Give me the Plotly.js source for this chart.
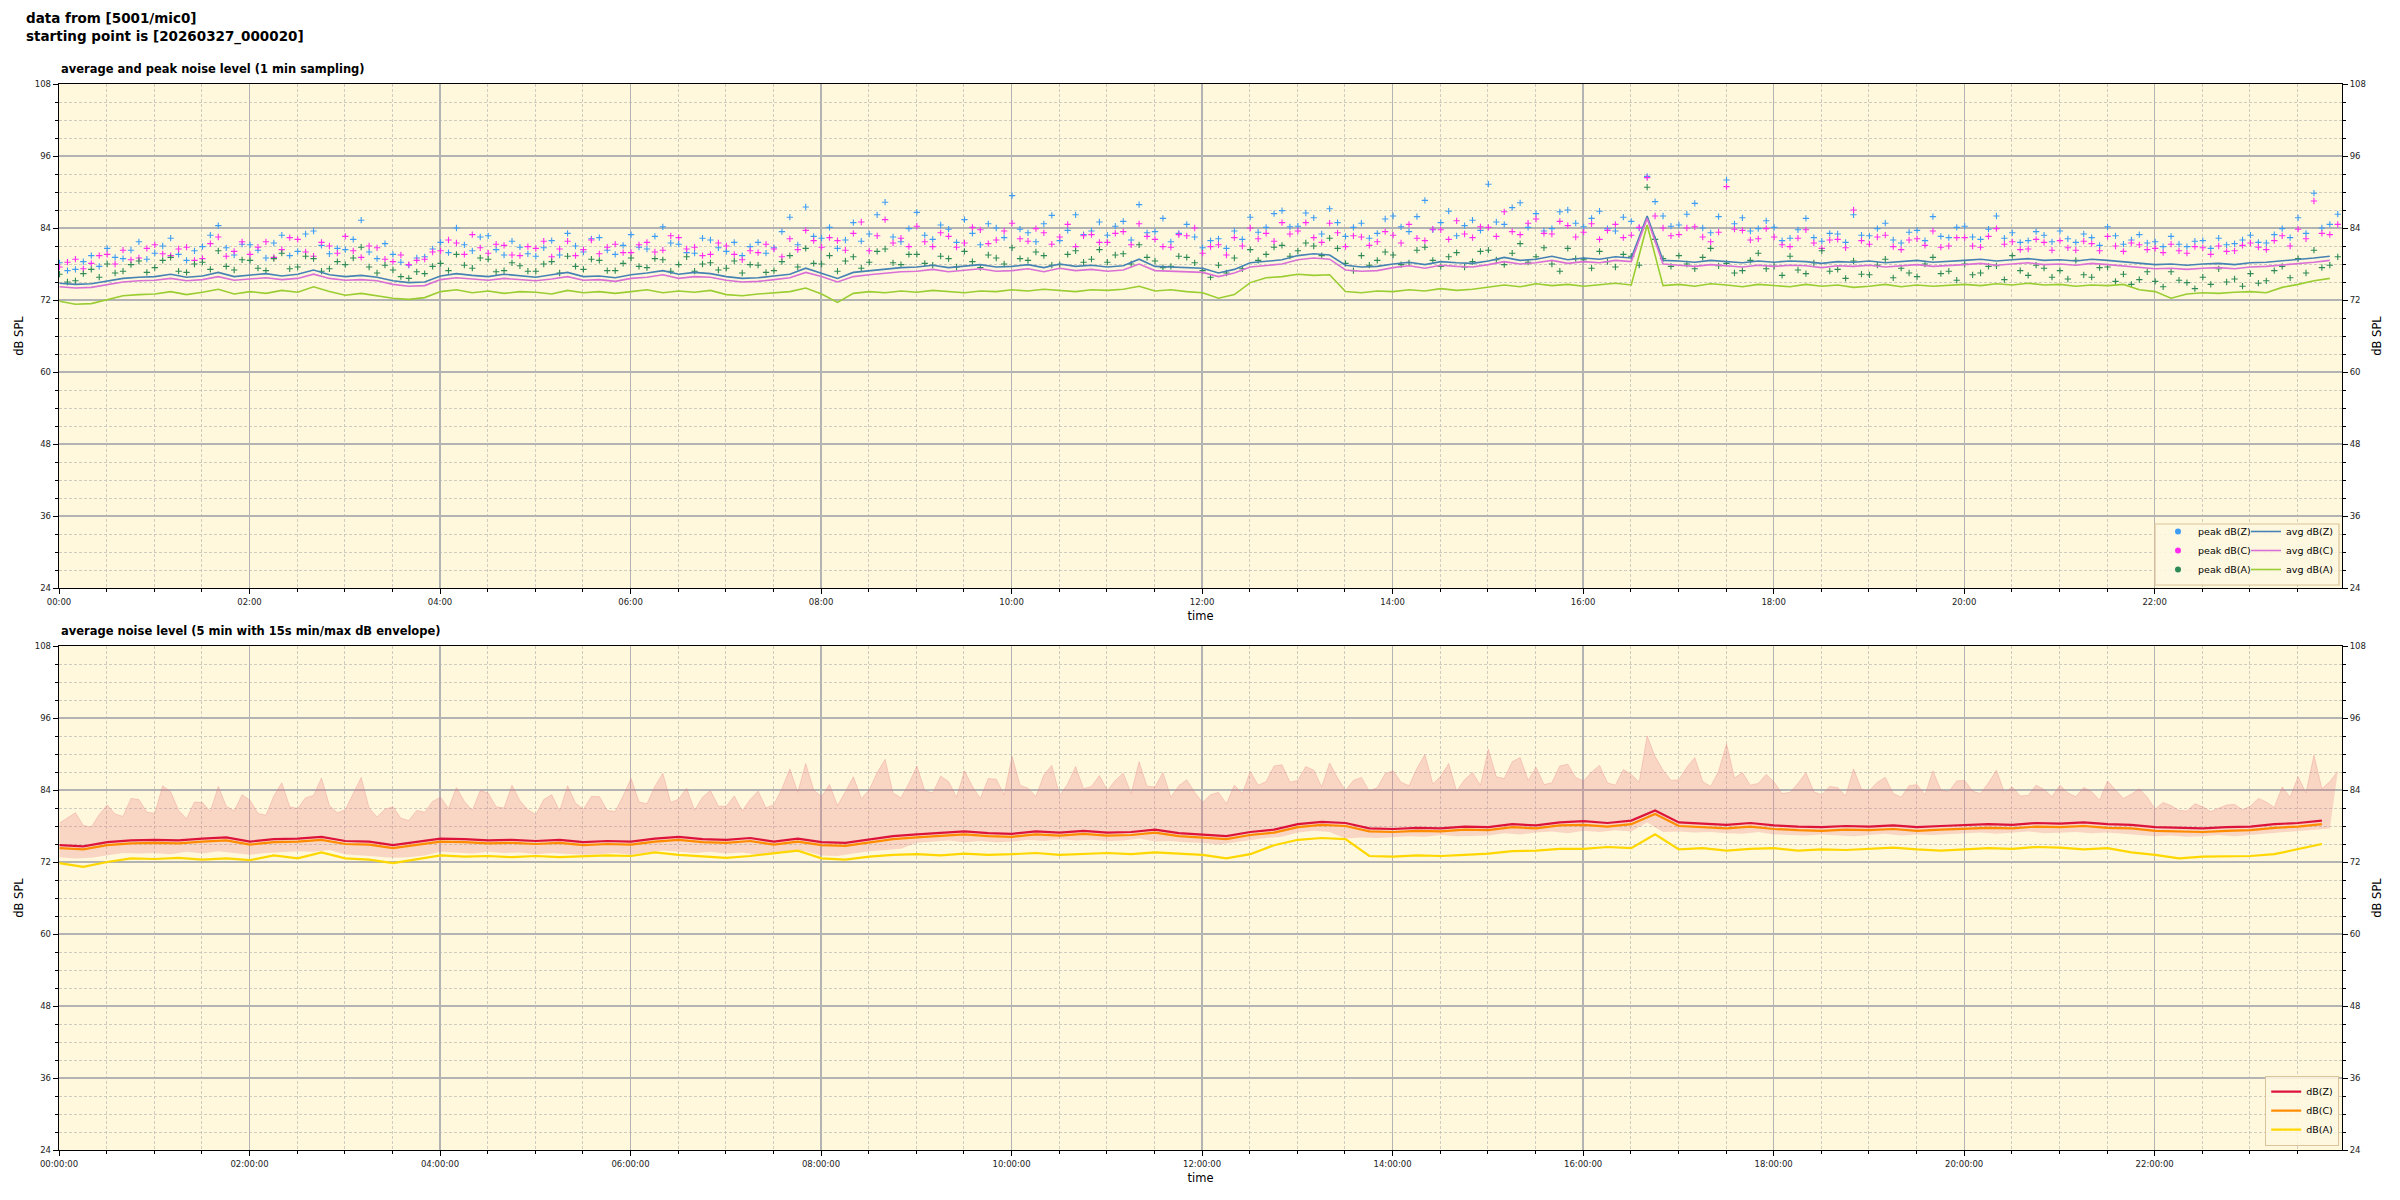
<!DOCTYPE html>
<html>
<head>
<meta charset="utf-8">
<script src="https://cdn.plot.ly/plotly-3.0.1.min.js"></script>
<style>
html,body{margin:0;padding:0;background:#fff;}
#chart{width:2400px;height:1200px;}
</style>
</head>
<body>
<div id="chart"></div>
<script>
// ---------------- data ----------------
const sourceName = '5001/mic0';
const startStamp = '20260327_000020';
const dayDate = '2026-03-27';
const startSecond = 20;
const avgStepMin = 10;      // top average lines, read every 10 min
const peakStepMin = 5;      // top peak markers, read every 5 min
const bottomStepMin = 15;   // bottom 5-min averages, read every 15 min
const envMaxStepMin = 5;    // 15 s max envelope, read every 5 min
const envMinStepMin = 10;   // 15 s min envelope, read every 10 min

// top: average levels, dB SPL (every 10 min)
const avgZ = [
74.8,74.6,74.7,75.1,75.6,75.8, 75.9,76.3,75.8,76.0,76.6,75.9, 76.1,76.4,76.0,76.3,77.0,76.2,
75.9,76.1,75.8,75.2,74.9,75.0, 76.0,76.4,76.1,75.9,76.3,76.0, 75.8,76.2,76.6,75.9,76.0,75.7,
76.2,76.5,76.9,76.3,76.6,76.4, 75.9,75.6,75.7,76.0,76.3,77.3, 76.5,75.6,76.6,76.9,77.2,77.4,
77.5,77.8,77.4,77.7,77.9,77.5, 77.6,77.9,77.4,78.0,77.6,77.8, 77.5,77.7,78.8,77.6,77.5,77.4,
77.3,76.5,77.1,78.2,78.5,78.7, 79.4,79.7,79.5,77.8,77.5,77.6, 78.0,78.3,77.9,78.4,78.2,78.1,
78.5,79.1,78.6,78.8,79.3,78.7, 79.0,78.8,79.2,79.0,86.0,78.6, 78.5,78.3,78.6,78.4,78.2,78.5,
78.3,78.5,78.4,78.1,78.4,78.3, 78.5,78.2,78.4,78.6,78.3,78.4, 78.6,78.8,78.5,78.7,78.9,78.6,
78.7,78.5,78.8,78.6,78.4,78.1, 77.9,78.0,77.8,78.0,78.1,77.9, 78.2,78.3,78.5,78.7,79.0,79.3
];
const avgC = [
74.2,74.0,74.1,74.5,75.0,75.2, 75.3,75.6,75.2,75.4,75.9,75.3, 75.5,75.7,75.4,75.6,76.3,75.6,
75.3,75.4,75.2,74.6,74.3,74.4, 75.4,75.7,75.5,75.3,75.6,75.4, 75.2,75.5,75.9,75.3,75.4,75.1,
75.6,75.8,76.2,75.6,75.9,75.8, 75.3,75.0,75.1,75.4,75.7,76.6, 75.9,75.0,75.9,76.2,76.5,76.7,
76.8,77.1,76.7,77.0,77.2,76.8, 76.9,77.2,76.7,77.3,76.9,77.1, 76.8,77.0,78.0,76.9,76.8,76.7,
76.6,75.9,76.5,77.5,77.8,78.0, 78.7,79.0,78.8,77.0,76.8,76.9, 77.4,77.7,77.3,77.8,77.6,77.5,
77.9,78.4,78.0,78.2,78.6,78.1, 78.4,78.2,78.6,78.4,85.6,78.0, 77.8,77.6,77.9,77.7,77.5,77.8,
77.6,77.8,77.7,77.4,77.7,77.6, 77.8,77.5,77.7,77.9,77.6,77.7, 77.9,78.1,77.8,78.0,78.2,77.9,
78.0,77.8,78.1,77.9,77.7,77.4, 77.2,77.3,77.1,77.3,77.4,77.2, 77.5,77.6,77.8,78.0,78.3,78.6
];
const avgA = [
71.8,71.3,71.4,72.1,72.7,72.9, 73.0,73.4,72.9,73.3,73.8,73.0, 73.4,73.1,73.6,73.3,74.2,73.4,
72.8,73.1,72.7,72.3,72.1,72.4, 73.4,73.7,73.2,73.5,73.1,73.4, 73.3,73.0,73.6,73.2,73.4,73.1,
73.4,73.7,73.2,73.5,73.3,73.6, 72.9,72.7,73.0,73.2,73.4,74.0, 73.0,71.6,73.1,73.4,73.2,73.5,
73.3,73.6,73.4,73.2,73.5,73.4, 73.7,73.5,73.8,73.6,73.4,73.7, 73.6,73.8,74.3,73.5,73.7,73.4,
73.2,72.3,72.9,74.9,75.7,75.9, 76.3,76.1,76.2,73.4,73.2,73.5, 73.4,73.7,73.5,73.9,73.6,73.8,
74.1,74.5,74.2,74.7,74.4,74.6, 74.3,74.6,74.8,74.5,84.5,74.4, 74.6,74.3,74.7,74.5,74.2,74.6,
74.4,74.2,74.6,74.3,74.5,74.1, 74.3,74.6,74.2,74.5,74.3,74.4, 74.6,74.4,74.7,74.5,74.8,74.5,
74.6,74.3,74.5,74.4,74.6,73.7, 73.4,72.3,73.0,73.2,73.1,73.3, 73.4,73.2,74.1,74.6,75.2,75.6
];
// top: peak levels, dB SPL (every 5 min, one row per hour)
const peakZ = [
78.2,76.9,77.1,78.4,79.4,77.6,80.6,79.1,78.9,80.3,81.7,78.8,
79.8,81.0,82.3,79.6,78.6,80.2,80.9,82.8,84.4,80.7,79.5,81.3,
81.2,80.3,79.0,81.5,82.8,79.4,80.1,83.0,83.5,81.1,79.7,80.6,
80.4,82.1,85.3,80.0,78.9,81.4,79.6,78.3,77.8,79.0,79.2,80.5,
81.6,79.9,84.0,81.2,80.2,82.5,82.7,80.4,79.5,81.8,80.8,79.7,
79.3,80.7,81.9,79.5,83.1,81.0,80.0,82.2,82.4,80.3,79.6,81.1,
82.9,80.8,80.5,82.6,84.2,81.5,81.3,79.9,79.8,82.3,82.0,80.7,
80.1,81.6,79.4,80.9,81.6,79.8,80.7,83.4,85.8,81.2,87.5,82.6,
82.3,84.1,80.6,82.0,84.9,81.8,83.0,86.2,88.3,82.5,81.7,83.9,
86.6,82.8,82.1,84.5,83.8,81.6,85.4,83.1,81.2,84.7,84.0,82.4,
89.4,83.8,83.2,81.7,84.7,86.1,81.9,83.6,86.2,82.9,83.5,85.0,
82.8,84.3,85.1,82.0,87.9,83.2,83.4,85.6,81.7,83.1,84.6,82.5,
80.7,81.9,82.2,80.6,83.5,82.1,85.8,83.3,84.1,86.4,86.9,84.2,
84.3,86.5,85.7,83.0,87.2,84.9,82.6,84.1,84.8,82.3,83.1,85.5,
86.0,84.2,83.4,85.9,88.6,83.7,84.9,86.8,82.7,84.4,85.3,83.6,
91.3,85.0,84.6,87.4,88.2,84.1,86.4,83.5,83.9,86.7,87.0,84.8,
84.2,85.6,86.8,83.9,83.5,85.8,85.1,84.0,92.6,88.4,86.0,84.3,
84.5,86.3,88.1,84.0,83.2,85.9,92.0,84.7,85.7,83.5,83.9,85.2,
84.1,81.9,82.3,83.7,85.6,82.4,81.8,83.1,83.0,81.6,86.2,82.8,
82.7,83.9,84.8,82.0,81.5,83.3,83.6,81.9,85.9,82.6,82.4,84.1,
84.3,82.5,82.1,83.8,86.0,82.3,83.2,81.6,81.9,83.4,82.8,81.7,
83.5,82.2,81.6,83.0,82.4,81.1,84.2,82.7,81.3,82.0,82.9,81.5,
81.7,80.9,82.6,81.3,80.9,81.8,81.9,80.6,82.3,81.2,81.4,82.0,
82.8,81.6,81.5,82.9,83.9,82.4,85.7,83.1,89.8,84.0,84.6,86.3
];
const peakC = [
77.5,78.3,78.8,77.2,78.1,79.4,79.6,78.0,80.3,78.7,79.0,80.6,
81.2,79.7,79.4,80.5,80.8,78.6,78.9,81.4,82.5,79.3,80.1,81.7,
79.6,80.8,81.7,79.1,80.4,82.4,82.1,80.0,79.3,81.6,81.0,79.8,
82.6,80.2,79.1,81.0,80.7,78.8,78.4,79.5,77.9,78.6,78.8,80.0,
80.2,82.0,81.5,79.6,82.9,80.7,79.8,81.3,81.1,79.5,79.4,80.9,
80.6,81.8,79.2,80.5,81.8,79.4,80.4,82.0,79.7,80.8,81.3,79.9,
79.9,81.2,81.6,80.0,80.3,82.7,82.4,80.5,80.8,79.4,79.6,81.5,
81.0,79.6,78.7,80.2,79.9,81.3,80.5,79.2,82.2,80.4,83.6,81.9,
80.8,82.4,81.9,80.3,83.1,85.0,80.2,82.7,85.4,81.5,82.3,80.9,
84.3,81.7,80.9,83.2,82.6,80.8,81.5,84.1,83.7,81.4,82.0,83.5,
84.8,82.2,81.8,83.9,83.2,81.3,82.5,84.6,80.9,82.7,82.9,81.6,
81.6,83.1,83.4,81.2,84.7,82.6,82.1,80.9,80.8,82.9,82.7,84.0,
79.8,80.9,81.2,79.5,82.4,81.0,84.0,82.2,83.1,81.8,84.9,83.0,
83.5,84.9,82.4,81.6,84.8,83.2,80.9,82.7,82.5,81.1,81.7,83.4,
82.8,81.5,84.6,82.3,81.9,83.8,83.7,82.1,85.2,83.0,82.4,84.2,
84.1,82.6,86.7,83.4,82.9,84.8,85.5,83.1,83.0,85.1,84.4,82.5,
83.3,84.7,82.1,83.6,84.6,82.4,82.8,84.1,92.4,86.0,84.0,82.7,
82.9,84.0,84.2,82.5,81.7,83.3,90.9,83.8,83.6,82.0,82.2,83.9,
82.5,81.2,80.9,82.3,83.7,81.5,80.6,82.0,82.1,80.7,87.0,81.9,
81.3,82.5,82.8,80.9,80.4,82.0,82.2,81.1,83.5,80.8,81.0,82.4,
82.4,81.0,80.8,82.6,83.9,81.3,81.7,80.4,80.5,82.1,81.6,80.3,
81.9,80.7,80.3,81.8,81.4,80.2,82.6,81.0,80.1,81.5,81.2,80.4,
80.6,79.9,81.3,80.2,79.8,80.9,80.7,79.6,81.0,80.1,80.2,81.1,
81.5,80.8,80.4,81.9,82.7,81.0,83.8,82.2,88.5,83.1,82.9,84.6
];
const peakA = [
76.3,75.0,75.2,76.4,77.1,75.8,78.0,76.5,76.8,77.9,78.5,76.6,
77.4,78.6,79.1,76.8,76.6,78.0,78.3,77.1,80.2,77.6,77.0,78.7,
78.6,77.3,76.9,78.9,79.8,77.2,77.5,79.3,78.9,76.8,77.2,78.4,
77.9,79.0,80.8,77.5,76.5,77.8,77.0,75.9,75.6,76.7,76.4,77.6,
78.1,76.9,79.6,77.8,77.3,79.0,78.8,76.7,76.9,78.2,77.7,76.8,
76.8,78.0,78.4,76.5,79.3,77.6,77.1,78.8,78.6,76.9,76.9,78.1,
79.0,77.6,77.4,78.9,78.7,76.8,77.9,79.2,76.8,78.0,78.2,77.0,
77.3,78.5,76.5,77.9,77.8,76.6,76.9,78.4,79.4,77.5,80.6,78.1,
78.0,79.4,76.8,78.5,79.2,77.3,78.3,80.1,80.5,78.2,77.9,79.6,
79.6,78.1,77.8,79.3,78.9,77.5,80.1,78.4,77.4,79.5,79.0,78.0,
80.7,78.9,78.6,80.0,79.4,77.8,77.9,79.6,80.2,78.3,78.8,80.4,
78.3,79.5,79.7,78.0,81.2,79.1,78.5,77.4,77.6,79.3,79.1,78.2,
76.9,75.8,77.8,76.5,79.0,77.2,80.4,78.6,79.6,80.8,81.1,79.3,
80.2,81.5,81.0,79.4,82.3,80.6,78.1,76.9,79.4,77.8,78.6,80.0,
79.5,77.9,78.2,80.3,80.8,78.6,77.6,79.2,79.9,77.5,78.4,80.1,
80.3,78.7,77.9,79.8,81.4,78.3,79.2,80.7,78.0,76.8,80.6,78.9,
78.7,77.3,80.1,78.4,77.5,79.6,79.3,77.8,90.8,82.1,78.9,77.6,
79.4,78.0,77.2,79.1,80.6,77.7,78.1,76.5,76.9,78.6,79.8,77.2,
77.6,76.1,79.3,77.0,76.4,78.2,80.2,76.8,77.1,75.6,78.5,76.3,
76.2,77.8,78.8,75.7,77.3,76.5,75.9,78.0,79.1,76.4,76.8,75.3,
78.0,76.2,76.5,77.6,77.7,75.4,79.4,76.9,76.1,77.8,77.3,75.8,
76.9,75.5,78.6,76.2,75.8,77.4,77.5,75.1,76.3,74.6,75.4,76.7,
75.1,74.2,76.7,75.3,74.9,73.9,75.8,74.6,77.2,75.0,75.5,74.3,
76.4,74.8,75.2,76.9,77.6,75.7,78.9,76.5,80.3,77.4,77.8,79.2
];

// bottom: 5-min average levels, dB SPL (every 15 min)
const dbZ = [
74.8,74.6,75.3,75.6, 75.7,75.6,75.9,76.1, 75.4,75.8,75.9,76.2, 75.5,75.4,74.8,75.3,
75.9,75.8,75.6,75.7, 75.5,75.7,75.3,75.5, 75.4,75.9,76.2,75.8, 75.7,76.0,75.4,75.9,
75.3,75.2,75.8,76.3, 76.6,76.9,77.1,76.8, 76.7,77.1,76.9,77.2, 76.9,77.0,77.4,76.8,
76.6,76.3,77.0,77.4, 78.3,78.7,78.5,77.6, 77.5,77.7,77.6,77.9, 77.8,78.3,78.1,78.6,
78.8,78.5,78.9,80.6, 78.6,78.4,78.2,78.5, 78.1,77.9,77.8,78.0, 77.9,78.1,77.8,78.0,
78.1,78.3,78.2,78.5, 78.4,78.6,78.3,78.2, 77.8,77.7,77.6,77.8, 77.9,78.3,78.5,78.9
];
const dbC = [
74.3,74.1,74.8,75.1, 75.2,75.1,75.4,75.6, 74.9,75.3,75.4,75.7, 75.0,74.9,74.3,74.8,
75.4,75.3,75.1,75.2, 75.0,75.2,74.8,75.0, 74.9,75.4,75.7,75.3, 75.2,75.5,74.9,75.4,
74.8,74.7,75.3,75.8, 76.1,76.4,76.6,76.3, 76.2,76.6,76.4,76.7, 76.4,76.5,76.9,76.3,
76.1,75.8,76.5,76.9, 77.8,78.2,78.0,77.1, 77.0,77.2,77.1,77.4, 77.3,77.8,77.6,78.1,
78.2,77.9,78.3,80.0, 78.0,77.8,77.6,77.9, 77.5,77.3,77.2,77.4, 77.3,77.5,77.2,77.4,
77.5,77.7,77.6,77.9, 77.8,78.0,77.7,77.6, 77.2,77.1,77.0,77.2, 77.3,77.7,77.9,78.3
];
const dbA = [
71.8,71.2,72.0,72.6, 72.5,72.7,72.4,72.6, 72.3,73.1,72.6,73.6, 72.6,72.4,71.8,72.5,
73.1,72.9,73.0,72.8, 73.0,72.8,72.9,73.1, 73.0,73.6,73.2,72.9, 72.7,73.0,73.4,73.9,
72.6,72.4,72.9,73.2, 73.3,73.1,73.4,73.2, 73.3,73.5,73.2,73.4, 73.5,73.3,73.6,73.4,
73.2,72.6,73.3,74.8, 75.7,76.0,75.8,73.0, 72.9,73.1,73.0,73.2, 73.4,73.8,73.9,74.2,
74.2,74.5,74.3,76.6, 74.1,74.3,73.9,74.2, 74.3,73.9,74.1,74.0, 74.2,74.4,74.1,73.9,
74.1,74.3,74.2,74.5, 74.4,74.1,74.3,73.6, 73.2,72.6,72.9,73.0, 73.0,73.3,74.2,75.0
];
// bottom: 15 s max envelope (every 5 min, one row per hour)
const envMax = [
78.5,79.4,80.2,78.1,77.8,79.9,81.5,80.0,79.6,82.6,82.4,80.3,
80.1,84.7,83.7,80.6,79.2,82.0,81.9,80.4,84.6,81.3,80.5,83.2,
82.3,80.1,79.8,83.0,85.2,81.2,80.9,82.7,83.1,86.0,81.4,80.2,
80.7,83.4,86.1,81.0,79.5,80.8,81.2,79.3,78.9,80.6,80.3,82.1,
82.8,80.9,84.4,82.1,80.6,83.9,83.5,81.2,81.0,84.8,82.2,80.7,
79.9,82.4,83.2,80.5,84.7,81.8,80.8,82.9,82.9,80.6,80.4,83.0,
85.9,82.0,81.7,84.6,86.8,81.9,82.5,84.3,80.6,82.8,83.9,81.3,
81.3,83.0,80.5,82.4,83.8,81.0,81.6,84.2,87.5,83.6,88.4,84.0,
82.9,84.9,81.4,83.7,86.2,82.6,84.0,86.9,89.1,83.5,82.7,85.1,
88.0,83.9,83.5,86.3,85.4,82.8,87.2,84.6,82.6,85.9,85.8,83.2,
89.6,84.8,84.3,82.9,86.5,88.1,83.1,85.0,87.9,84.2,84.6,86.4,
83.9,85.6,86.8,83.4,88.7,84.6,84.5,86.9,82.8,84.7,85.7,83.6,
81.9,83.2,83.6,81.7,84.8,83.4,87.1,84.8,85.4,88.0,88.2,85.3,
85.6,87.9,87.3,84.5,88.5,86.0,83.9,85.6,86.1,83.8,84.4,86.7,
87.2,85.3,84.7,87.6,89.9,85.0,86.3,88.4,83.8,85.7,86.9,84.8,
90.8,86.2,85.9,88.7,89.4,85.6,87.8,84.9,85.2,88.0,88.3,86.1,
85.5,87.0,88.1,85.2,84.8,87.4,86.6,85.3,93.0,89.6,87.3,85.6,
85.7,87.8,89.4,85.4,84.6,87.1,91.7,86.0,86.9,84.8,85.1,86.6,
85.3,83.4,83.6,85.1,86.9,83.7,83.2,84.6,84.4,83.0,87.5,84.1,
83.9,85.3,86.1,83.4,82.8,84.7,84.9,83.2,87.2,84.0,83.7,85.5,
85.6,83.8,83.4,85.2,87.3,83.6,84.5,83.0,83.1,84.8,84.1,82.9,
84.8,83.5,82.9,84.4,83.7,82.3,85.5,84.0,82.6,83.3,84.2,82.8,
80.8,81.9,81.4,80.6,80.5,81.7,81.2,80.4,80.9,81.5,81.6,80.7,
81.3,82.6,82.0,81.1,84.5,82.8,86.2,83.5,89.8,84.2,85.4,87.1
];
// bottom: 15 s min envelope (every 10 min)
const envMin = [
72.8,72.6,72.7,73.1,73.5,73.4, 73.5,73.3,73.7,73.4,73.8,73.5, 73.2,73.5,73.6,73.8,73.7,74.0,
73.3,73.1,73.0,72.7,72.8,73.1, 73.7,73.6,73.4,73.7,73.5,73.6, 73.3,73.5,73.4,73.2,73.3,73.5,
73.2,73.6,73.9,73.7,73.5,73.7, 73.4,73.6,73.2,73.5,73.7,73.8, 73.1,73.0,73.4,73.8,74.0,74.2,
75.2,75.4,75.6,75.3,75.5,75.3, 75.4,75.7,75.5,75.8,75.6,75.7, 75.5,75.6,75.9,75.4,75.5,75.3,
75.2,74.9,75.3,75.7,76.0,76.2, 76.9,77.2,77.0,75.9,76.1,76.0, 76.1,76.3,76.2,76.5,76.3,76.4,
76.4,76.8,76.6,76.9,77.1,76.8, 77.2,77.0,77.3,77.1,78.6,77.0, 77.1,76.9,77.0,76.8,76.7,77.0,
76.6,76.5,76.4,76.6,76.5,76.3, 76.5,76.7,76.4,76.6,76.5,76.6, 76.8,76.9,76.7,76.9,77.1,76.8,
76.9,77.0,76.8,76.9,76.7,76.5, 76.3,76.4,76.2,76.3,76.5,76.3, 76.5,76.7,76.9,77.1,77.4,77.6
];

// labels
const figTitleLines = ['data from [' + sourceName + ']', 'starting point is [' + startStamp + ']'];
const topTitle = 'average and peak noise level (1 min sampling)';
const bottomTitle = 'average noise level (5 min with 15s min/max dB envelope)';
const peakNames = ['peak dB(Z)', 'peak dB(C)', 'peak dB(A)'];
const avgNames = ['avg dB(Z)', 'avg dB(C)', 'avg dB(A)'];
const bandNames = ['dB(Z)', 'dB(C)', 'dB(A)'];

// ---------------- helpers ----------------
function pad(n){ return (n < 10 ? '0' : '') + n; }
function stampAt(minutes){
  const h = Math.floor(minutes / 60), m = minutes % 60;
  return dayDate + ' ' + pad(h) + ':' + pad(m) + ':' + pad(startSecond);
}
function timesFor(n, step){ const t = []; for (let i = 0; i < n; i++) t.push(stampAt(i * step)); return t; }
const tAvg = timesFor(avgZ.length, avgStepMin);
const tPeak = timesFor(peakZ.length, peakStepMin);
const tBot = timesFor(dbZ.length, bottomStepMin);
const tEnvMax = timesFor(envMax.length, envMaxStepMin);
const tEnvMin = timesFor(envMin.length, envMinStepMin);

const FONT = 'DejaVu Sans, sans-serif';
const peakColors = ['#3d9df5', '#ff2cf0', '#2e8b57'];
const avgColors = ['#4682b4', '#da70d6', '#9acd32'];
const bandColors = ['#dc143c', '#ff8c00', '#ffd700'];

const traces = [];
// peak scatter (+ markers)
[peakZ, peakC, peakA].forEach((arr, i) => {
  traces.push({
    x: tPeak, y: arr, type: 'scatter', mode: 'markers', xaxis: 'x', yaxis: 'y',
    showlegend: false, hoverinfo: 'x+y', name: peakNames[i],
    marker: {symbol: 'cross-thin', size: 4.5, color: peakColors[i], line: {color: peakColors[i], width: 1.1}}
  });
});
// avg lines
[avgZ, avgC, avgA].forEach((arr, i) => {
  traces.push({
    x: tAvg, y: arr, type: 'scatter', mode: 'lines', xaxis: 'x', yaxis: 'y',
    name: avgNames[i], legend: 'legend2', legendrank: i + 1,
    line: {color: avgColors[i], width: 1.6}
  });
});
// legend entries for peaks (dot symbols like the reference legend)
peakNames.forEach((nm, i) => {
  traces.push({
    x: [tPeak[0]], y: [null], type: 'scatter', mode: 'markers', xaxis: 'x', yaxis: 'y',
    name: nm, legend: 'legend', legendrank: i + 1, hoverinfo: 'skip',
    marker: {symbol: 'circle', size: 6, color: peakColors[i]}
  });
});
// envelope
traces.push({
  x: tEnvMin, y: envMin, type: 'scatter', mode: 'lines', xaxis: 'x2', yaxis: 'y2',
  line: {width: 0, color: 'rgba(230,110,130,0)'}, showlegend: false, hoverinfo: 'skip'
});
traces.push({
  x: tEnvMax, y: envMax, type: 'scatter', mode: 'lines', xaxis: 'x2', yaxis: 'y2', fill: 'tonexty',
  fillcolor: 'rgba(230,112,122,0.25)', line: {width: 0.8, color: 'rgba(232,130,130,0.40)'},
  showlegend: false, hoverinfo: 'skip'
});
// bottom lines (draw A, C, Z so Z is on top)
[[dbA, 2], [dbC, 1], [dbZ, 0]].forEach(([arr, i]) => {
  traces.push({
    x: tBot, y: arr, type: 'scatter', mode: 'lines', xaxis: 'x2', yaxis: 'y2',
    name: bandNames[i], legend: 'legend3', legendrank: i + 1,
    line: {color: bandColors[i], width: 2.2}
  });
});
// right-hand twin axes (carry an invisible copy so the axes are drawn)
traces.push({x: tAvg, y: avgZ, xaxis: 'x', yaxis: 'y3', type: 'scatter', mode: 'lines', opacity: 0, showlegend: false, hoverinfo: 'skip'});
traces.push({x: tBot, y: dbZ, xaxis: 'x2', yaxis: 'y4', type: 'scatter', mode: 'lines', opacity: 0, showlegend: false, hoverinfo: 'skip'});

// ---------------- layout ----------------
const W = 2400, H = 1200, mL = 59, mR = 58, mT = 84, mB = 50;
const plotW = W - mL - mR, plotH = H - mT - mB;
const py = (pix) => (H - mB - pix) / plotH;   // page pixel y -> paper y
const px = (pix) => (pix - mL) / plotW;       // page pixel x -> paper x
const topDomain = [py(588), 1];
const botDomain = [0, py(646)];
const xRange = [dayDate + ' 00:00:00', dayDate + ' 23:58:00'];
const MINOR_GRID = {color: '#c2c0b8', dash: '3px,2px', width: 0.8};

function xAxis(anchor, fmt){
  return {
    anchor: anchor, type: 'date', range: xRange, tick0: dayDate + ' 00:00:00', dtick: 7200000,
    tickformat: fmt, ticks: 'outside', ticklen: 5, tickwidth: 1, tickcolor: '#000',
    showline: true, linecolor: '#000', linewidth: 1.3, mirror: true,
    showgrid: true, gridcolor: '#b3b3b3', gridwidth: 1.3, zeroline: false,
    tickfont: {family: FONT, size: 8.5, color: '#222'},
    minor: {dtick: 1800000, ticks: 'outside', ticklen: 3, tickcolor: '#000', showgrid: true,
            gridcolor: MINOR_GRID.color, griddash: MINOR_GRID.dash, gridwidth: MINOR_GRID.width},
    title: {text: 'time', font: {family: FONT, size: 11.5, color: '#000'}, standoff: 6}
  };
}
function yAxis(anchor, domain, side, overlay){
  const a = {
    anchor: anchor, range: [24, 108], tick0: 24, dtick: 12, ticks: 'outside', ticklen: 5,
    tickwidth: 1, tickcolor: '#000', zeroline: false, side: side,
    tickfont: {family: FONT, size: 8.5, color: '#222'},
    minor: {dtick: 3, ticks: 'outside', ticklen: 3, tickcolor: '#000',
            showgrid: !overlay, gridcolor: MINOR_GRID.color, griddash: MINOR_GRID.dash, gridwidth: MINOR_GRID.width},
    title: {text: 'dB SPL', font: {family: FONT, size: 11.5, color: '#000'}, standoff: 8}
  };
  if (overlay) { a.overlaying = overlay; a.showgrid = false; a.showline = false; }
  else { a.domain = domain; a.showline = true; a.linecolor = '#000'; a.linewidth = 1.3; a.mirror = true;
         a.showgrid = true; a.gridcolor = '#b3b3b3'; a.gridwidth = 1.3; }
  return a;
}

const legendFont = {family: FONT, size: 9.5, color: '#000'};
const layout = {
  width: W, height: H, margin: {l: mL, r: mR, t: mT, b: mB},
  paper_bgcolor: '#ffffff', plot_bgcolor: '#fff8dc',
  font: {family: FONT},
  showlegend: true,
  xaxis: xAxis('y', '%H:%M'),
  yaxis: yAxis('x', topDomain, 'left'),
  yaxis3: yAxis('x', null, 'right', 'y'),
  xaxis2: xAxis('y2', '%H:%M:%S'),
  yaxis2: yAxis('x2', botDomain, 'left'),
  yaxis4: yAxis('x2', null, 'right', 'y2'),
  legend: {x: px(2158), y: py(584), xanchor: 'left', yanchor: 'bottom', bgcolor: 'rgba(0,0,0,0)',
           borderwidth: 0, font: legendFont, tracegroupgap: 0, itemwidth: 30, traceorder: 'normal'},
  legend2: {x: px(2246), y: py(584), xanchor: 'left', yanchor: 'bottom', bgcolor: 'rgba(0,0,0,0)',
            borderwidth: 0, font: legendFont, tracegroupgap: 0, itemwidth: 30, traceorder: 'normal'},
  legend3: {x: px(2339), y: py(1146), xanchor: 'right', yanchor: 'bottom', bgcolor: 'rgba(255,248,225,0.85)',
            bordercolor: '#dcc49a', borderwidth: 1.2, font: legendFont, tracegroupgap: 0, itemwidth: 30,
            traceorder: 'normal'},
  shapes: [{type: 'rect', xref: 'paper', yref: 'paper', x0: px(2155), x1: px(2339), y0: py(585), y1: py(524),
            fillcolor: 'rgba(255,248,225,0.85)', line: {color: '#dcc49a', width: 1.2}, layer: 'above'}],
  annotations: [
    {xref: 'paper', yref: 'paper', x: px(24), y: py(8), xanchor: 'left', yanchor: 'top', align: 'left',
     showarrow: false, text: '<b>' + figTitleLines.join('<br>') + '</b>',
     font: {family: FONT, size: 13.5, color: '#000'}},
    {xref: 'paper', yref: 'paper', x: 0, y: py(78), xanchor: 'left', yanchor: 'bottom', showarrow: false,
     text: '<b>' + topTitle + '</b>', font: {family: FONT, size: 11.5, color: '#000'}},
    {xref: 'paper', yref: 'paper', x: 0, y: py(640), xanchor: 'left', yanchor: 'bottom', showarrow: false,
     text: '<b>' + bottomTitle + '</b>', font: {family: FONT, size: 11.5, color: '#000'}}
  ]
};

Plotly.newPlot('chart', traces, layout, {staticPlot: true, displayModeBar: false});
</script>
</body>
</html>
